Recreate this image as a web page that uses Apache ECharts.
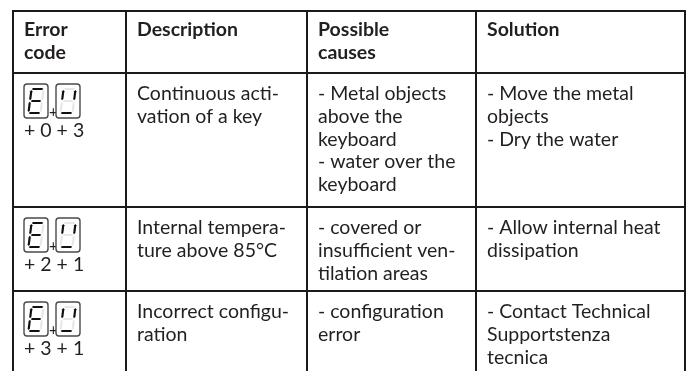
<!DOCTYPE html>
<html><head><meta charset="utf-8">
<script src="https://cdn.jsdelivr.net/npm/echarts@6/dist/echarts.min.js"></script>
<style>html,body{margin:0;padding:0;background:#fff}#c{width:688px;height:371px}</style>
</head><body><div id="c"></div>
<script>
// ---- data ----
const headers = [['Error','code'],['Description'],['Possible','causes'],['Solution']];
const codeDigits = [['E','U'],['E','U'],['E','U']];
const codes = ['+ 0 + 3','+ 2 + 1','+ 3 + 1'];
const descriptions = [['Continuous acti-','vation of a key'],['Internal tempera-','ture above 85°C'],['Incorrect configu-','ration']];
const causes = [['- Metal objects','above the','keyboard','- water over the','keyboard'],['- covered or','insufficient ven-','tilation areas'],['- configuration','error']];
const solutions = [['- Move the metal','objects','- Dry the water'],['- Allow internal heat','dissipation'],['- Contact Technical','Supportstenza','tecnica']];

// ---- layout ----
const colX = [13,126,307,476,685];
const rowY = [11,73,207,291,390];
const FONT = 'Lato, sans-serif';
const SIZE = 19.5;
const LH = 22.7;
const INK = '#231f20';
const els = [];

function addLines(lines, x, y, bold){
  lines.forEach((t,i)=>{
    els.push({type:'text', style:{text:t, x:x, y:y+i*LH, fill:INK,
      font:(bold?'bold ':'')+SIZE+'px '+FONT, textVerticalAlign:'middle'}});
  });
}
// seven segment
const SEGS = {a:[[6.5,5],[17.5,5],'h'], b:[[18,6.2],[18,16],'v'], c:[[18,18],[18,27.8],'v'],
  d:[[6.5,29],[17.5,29],'h'], e:[[6,18],[6,27.8],'v'], f:[[6,6.2],[6,16],'v'], g:[[7,17],[17,17],'h']};
const ON = {E:['a','d','e','f','g'], U:['b','d','f']};
function digit(ch, x0, y0){
  els.push({type:'rect', shape:{x:x0, y:y0, width:24, height:34, r:3},
    style:{fill:'#fff', stroke:'#4a4a4a', lineWidth:1.4}});
  const sl = 0.13;
  Object.keys(SEGS).forEach(k=>{
    const [p,q,o] = SEGS[k]; const t=1.1;
    let pts;
    if(o==='h') pts=[[p[0]+1,p[1]-t],[q[0]-1,q[1]-t],[q[0]+0.3,q[1]],[q[0]-1,q[1]+t],[p[0]+1,p[1]+t],[p[0]-0.3,p[1]]];
    else pts=[[p[0]-t,p[1]+1],[p[0],p[1]-0.3],[p[0]+t,p[1]+1],[q[0]+t,q[1]-1],[q[0],q[1]+0.3],[q[0]-t,q[1]-1]];
    pts = pts.map(([x,y])=>[x0+x+(17-y)*sl, y0+y]);
    const on = ON[ch].indexOf(k)>=0;
    els.push({type:'polygon', shape:{points:pts}, style:{fill: on?'#111':'#e8e8e8'}});
  });
}

// headers
headers.forEach((h,i)=> addLines(h, colX[i]+11, rowY[0]+19, true));
// rows
for(let r=0;r<codes.length;r++){
  const top = rowY[r+1];
  digit(codeDigits[r][0], colX[0]+11, top+11);
  els.push({type:'text', style:{text:'+', x:colX[0]+36, y:top+39, fill:INK, font:'15px '+FONT, textVerticalAlign:'middle'}});
  digit(codeDigits[r][1], colX[0]+43, top+11);
  addLines([codes[r]], colX[0]+11, top+58, false);
  addLines(descriptions[r], colX[1]+11, top+21, false);
  addLines(causes[r], colX[2]+11, top+21, false);
  addLines(solutions[r], colX[3]+11, top+21, false);
}
// grid lines
colX.forEach(x=> els.push({type:'line', shape:{x1:x,y1:rowY[0]-1,x2:x,y2:rowY[rowY.length-1]}, style:{stroke:'#1a1a1a', lineWidth:2}}));
rowY.slice(0,-1).forEach(y=> els.push({type:'line', shape:{x1:colX[0]-1,y1:y,x2:colX[colX.length-1]+1,y2:y}, style:{stroke:'#1a1a1a', lineWidth:2}}));

const chart = echarts.init(document.getElementById('c'), null, {renderer:'canvas'});
chart.setOption({animation:false, backgroundColor:'#fff', graphic:{elements:els}});
</script></body></html>
